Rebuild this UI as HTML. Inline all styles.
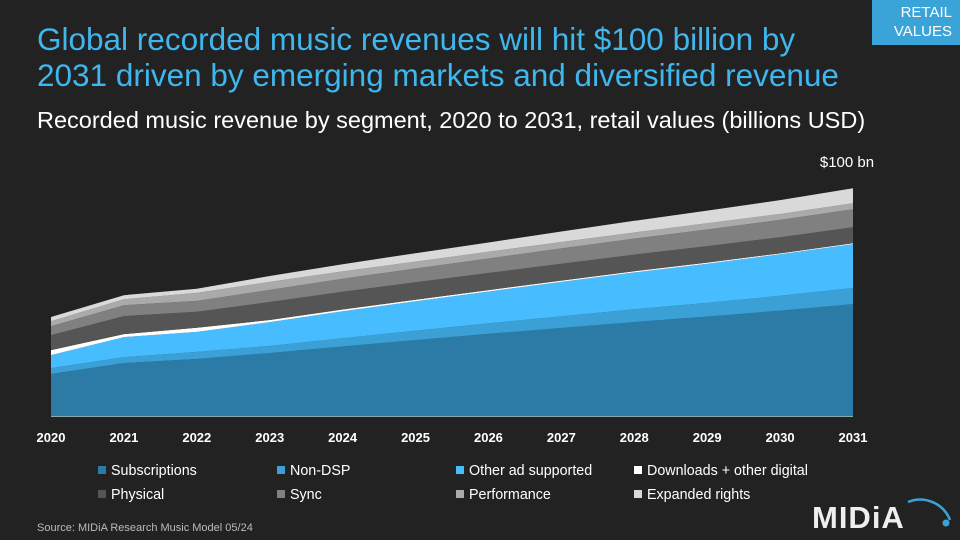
<!DOCTYPE html>
<html><head><meta charset="utf-8"><style>
body{margin:0;background:#222;}
#root{position:relative;width:960px;height:540px;background:#222;overflow:hidden;font-family:"Liberation Sans",sans-serif;}
.t{position:absolute;white-space:nowrap;}
</style></head><body>
<div id="root">
<div class="t" style="left:37px;top:21px;font-size:31.5px;line-height:36px;color:#3fb6ee;">Global recorded music revenues will hit $100 billion by<br>2031 driven by emerging markets and diversified revenue</div>
<div class="t" style="left:37px;top:107px;font-size:23.5px;color:#fff;">Recorded music revenue by segment, 2020 to 2031, retail values (billions USD)</div>
<div style="position:absolute;left:872px;top:0;width:88px;height:45px;background:#3aa3d8;color:#fff;font-size:15px;line-height:19px;text-align:right;box-sizing:border-box;padding:3px 8px 0 0;">RETAIL<br>VALUES</div>
<svg id="chart" width="960" height="540" style="position:absolute;left:0;top:0;"></svg>
<div class="t" style="left:37px;top:522px;font-size:11px;color:#bbb;">Source: MIDiA Research Music Model 05/24</div>
<svg width="160" height="60" style="position:absolute;left:800px;top:480px;">
<path d="M 108 22 A 32 32 0 0 1 150 40" stroke="#3aa3d8" stroke-width="2.5" fill="none"/>
<circle cx="146" cy="43" r="3.5" fill="#3aa3d8"/>
<text x="12" y="48" font-family="Liberation Sans, sans-serif" font-weight="bold" font-size="31" fill="#eee" letter-spacing="1">MIDiA</text>
</svg>
</div>
<script>
const years=["2020","2021","2022","2023","2024","2025","2026","2027","2028","2029","2030","2031"];
const seriesNames=["Subscriptions","Non-DSP","Other ad supported","Downloads + other digital","Physical","Sync","Performance","Expanded rights"];
const colors=["#2b7ba6","#3aa0d6","#47bdff","#ffffff","#555555","#808080","#aaaaaa","#d9d9d9"];
const subscriptions=[18.4,23.2,25.0,27.6,30.5,33.3,36.0,38.6,41.2,43.6,46.2,49.1];
const nonDsp=[2.6,2.6,3.1,3.1,3.6,4.1,4.6,5.1,5.6,6.0,6.5,7.0];
const otherAd=[5.7,8.8,8.8,10.5,11.8,12.9,14.0,15.1,16.2,17.2,18.2,19.3];
const downloads=[2.2,1.3,1.8,0.9,0.8,0.7,0.6,0.6,0.5,0.5,0.4,0.4];
const physical=[6.6,7.9,7.0,7.9,7.8,7.7,7.5,7.4,7.3,7.2,7.1,7.0];
const sync=[3.9,4.8,4.8,5.3,5.7,6.0,6.4,6.7,7.0,7.3,7.6,7.9];
const performance=[2.2,2.6,3.5,3.5,3.2,3.0,2.9,2.8,2.7,2.7,2.6,2.6];
const expandedRights=[1.8,1.8,1.8,2.6,3.2,3.7,4.1,4.6,5.1,5.6,6.1,6.6];
const series=[subscriptions,nonDsp,otherAd,downloads,physical,sync,performance,expandedRights];
const totalLabel="$100 bn";

const X0=51,X1=853,Y0=416,PX=2.28;
const xs=i=>X0+(X1-X0)*i/(years.length-1);
const ys=v=>Y0-v*PX;
const NS="http://www.w3.org/2000/svg";
const svg=document.getElementById('chart');
let base=years.map(()=>0);
series.forEach((s,k)=>{
  const top=base.map((b,i)=>b+s[i]);
  let d="";
  top.forEach((v,i)=>{d+=(i?"L":"M")+xs(i).toFixed(1)+" "+ys(v).toFixed(1)+" ";});
  for(let i=years.length-1;i>=0;i--) d+="L"+xs(i).toFixed(1)+" "+ys(base[i]).toFixed(1)+" ";
  const p=document.createElementNS(NS,'path');
  p.setAttribute('d',d+"Z");
  p.setAttribute('fill',colors[k]);
  
  
  svg.appendChild(p);
  base=top;
});
const ax=document.createElementNS(NS,'line');
ax.setAttribute('x1',X0);ax.setAttribute('x2',X1);ax.setAttribute('y1',Y0+0.5);ax.setAttribute('y2',Y0+0.5);
ax.setAttribute('stroke','#8aa');ax.setAttribute('stroke-width','1');


svg.appendChild(ax);
years.forEach((y,i)=>{
  const t=document.createElementNS(NS,'text');
  t.setAttribute('x',xs(i));t.setAttribute('y',442);t.setAttribute('text-anchor','middle');
  t.setAttribute('fill','#fff');t.setAttribute('font-size','13');t.setAttribute('font-weight','bold');
  t.setAttribute('font-family','Liberation Sans, sans-serif');
  t.textContent=y;
  
  
  svg.appendChild(t);
});
const tl=document.createElementNS(NS,'text');
tl.setAttribute('x',X1-6);tl.setAttribute('y',ys(base[base.length-1])-21);tl.setAttribute('text-anchor','middle');
tl.setAttribute('fill','#fff');tl.setAttribute('font-size','15');tl.setAttribute('font-family','Liberation Sans, sans-serif');
tl.textContent=totalLabel;


svg.appendChild(tl);
const lx=[98,277,456,634];
seriesNames.forEach((n,k)=>{
  const g=document.createElementNS(NS,'g');
  
  
  const x=lx[k%4],y=k<4?470:494;
  const r=document.createElementNS(NS,'rect');
  r.setAttribute('x',x);r.setAttribute('y',y-4);r.setAttribute('width',8);r.setAttribute('height',8);r.setAttribute('fill',colors[k]);
  g.appendChild(r);
  const t=document.createElementNS(NS,'text');
  t.setAttribute('x',x+13);t.setAttribute('y',y+5);t.setAttribute('fill','#fff');t.setAttribute('font-size','14.3');
  t.setAttribute('font-family','Liberation Sans, sans-serif');
  t.textContent=n;
  g.appendChild(t);
  svg.appendChild(g);
});
</script>
</body></html>
